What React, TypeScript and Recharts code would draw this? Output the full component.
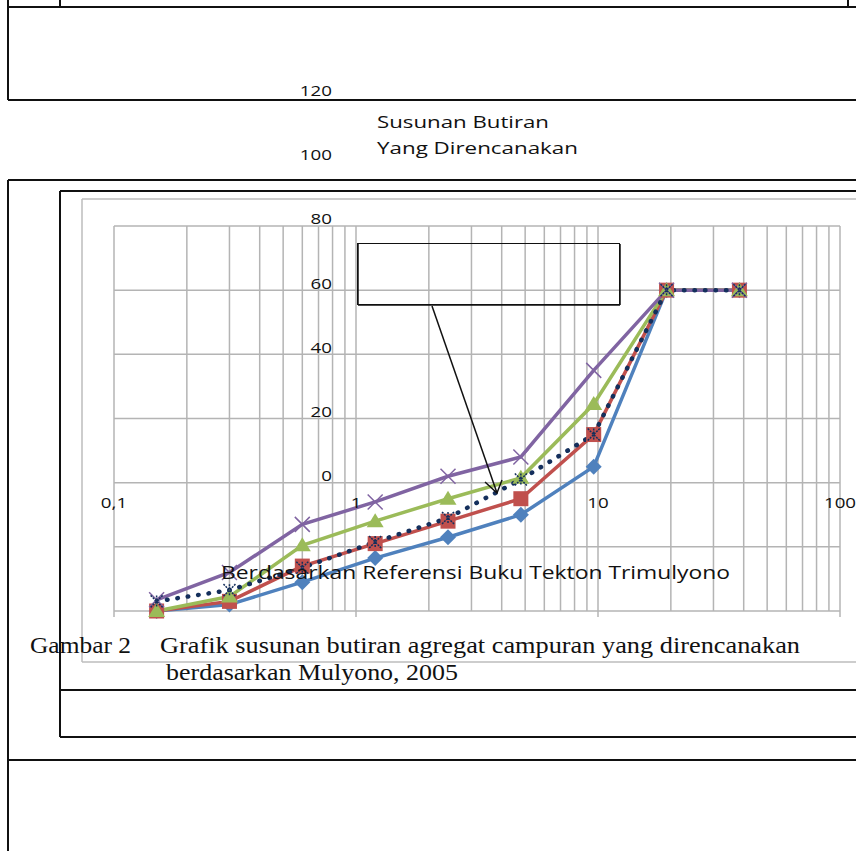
import React from 'react';
import { LineChart, Line, XAxis, YAxis, CartesianGrid } from 'recharts';

// ukuran saringan (mm) dan persen lolos tiap seri
const sieveSizes = [0.15, 0.3, 0.6, 1.2, 2.4, 4.8, 9.6, 19.2, 38.4];
const blueSeries = [0, 2, 9, 16.5, 23, 30, 45, 100, 100];
const redSeries = [0, 3, 14, 21, 28, 35, 55, 100, 100];
const greenSeries = [0, 4.5, 20.5, 28, 35, 41.5, 64.5, 100, 100];
const purpleSeries = [3.5, 12, 27, 34, 42, 48, 75, 100, 100];
const plannedSeries = [3, 6.5, 13.5, 21.5, 29, 41, 55, 100, 100];

const xGridValues = [
  0.1, 0.2, 0.3, 0.4, 0.5, 0.6, 0.7, 0.8, 0.9,
  1, 2, 3, 4, 5, 6, 7, 8, 9,
  10, 20, 30, 40, 50, 60, 70, 80, 90,
  100,
];
const xLabelValues = [0.1, 1, 10, 100];
const xLabelTexts = ['0,1', '1', '10', '100'];
const yTicks = [0, 20, 40, 60, 80, 100, 120];

const data = sieveSizes.map((size, i) => ({
  size,
  blue: blueSeries[i],
  red: redSeries[i],
  green: greenSeries[i],
  purple: purpleSeries[i],
  planned: plannedSeries[i],
}));

const BLUE = '#4F81BD';
const RED = '#C0504D';
const GREEN = '#9BBB59';
const PURPLE = '#8064A2';
const NAVY = '#142F5C';
const GRID = '#B4B4B4';
const SANS = "'Open Sans', 'DejaVu Sans', sans-serif";
const SERIF = "'Liberation Serif', 'Times New Roman', serif";

const XTick = (props: any) => {
  const { x, y, payload } = props;
  const i = xLabelValues.indexOf(payload.value);
  if (i < 0) return <g />;
  return (
    <g>
      <line x1={x} x2={x} y1={y} y2={y + 6} stroke={GRID} strokeWidth={1.5} />
      <text
        transform={`translate(${x},${y - 103}) scale(1.25,1)`}
        textAnchor="middle"
        fontFamily={SANS}
        fontSize={15}
        fill="#111"
      >
        {xLabelTexts[i]}
      </text>
    </g>
  );
};

const YTick = (props: any) => {
  const { x, y, payload } = props;
  return (
    <text
      transform={`translate(${x + 218},${y - 130}) scale(1.25,1)`}
      textAnchor="end"
      fontFamily={SANS}
      fontSize={15}
      fill="#111"
    >
      {payload.value}
    </text>
  );
};

const diamondDot = (p: any) => {
  const { cx, cy, index } = p;
  const r = 8;
  return (
    <path
      key={`b${index}`}
      d={`M${cx},${cy - r}L${cx + r},${cy}L${cx},${cy + r}L${cx - r},${cy}Z`}
      fill={BLUE}
    />
  );
};

const squareDot = (p: any) => {
  const { cx, cy, index } = p;
  return <rect key={`r${index}`} x={cx - 7.5} y={cy - 7.5} width={15} height={15} fill={RED} />;
};

const triangleDot = (p: any) => {
  const { cx, cy, index } = p;
  return (
    <path
      key={`g${index}`}
      d={`M${cx},${cy - 8}L${cx + 8.5},${cy + 6}L${cx - 8.5},${cy + 6}Z`}
      fill={GREEN}
    />
  );
};

const crossDot = (p: any) => {
  const { cx, cy, index } = p;
  const r = 7.5;
  return (
    <path
      key={`p${index}`}
      d={`M${cx - r},${cy - r}L${cx + r},${cy + r}M${cx - r},${cy + r}L${cx + r},${cy - r}`}
      stroke={PURPLE}
      strokeWidth={1.5}
      fill="none"
    />
  );
};

const starDot = (p: any) => {
  const { cx, cy, index } = p;
  const r = 6;
  return (
    <path
      key={`s${index}`}
      d={`M${cx - r},${cy - r}L${cx + r},${cy + r}M${cx - r},${cy + r}L${cx + r},${cy - r}M${cx},${cy - r}L${cx},${cy + r}`}
      stroke={NAVY}
      strokeWidth={1.5}
      strokeDasharray="2 1"
      fill="none"
    />
  );
};

const T = ({ x, y, w, size, font, children }: any) => (
  <text
    x={x}
    y={y}
    textLength={w}
    lengthAdjust="spacingAndGlyphs"
    fontFamily={font}
    fontSize={size}
    fill="#111"
  >
    {children}
  </text>
);

const Page = () => (
  <svg
    width={856}
    height={851}
    style={{ position: 'absolute', left: 0, top: 0, pointerEvents: 'none' }}
  >
    {/* kotak dokumen */}
    <g stroke="#111" strokeWidth={2} fill="none">
      <line x1={8} x2={856} y1={7} y2={7} />
      <line x1={8} x2={8} y1={0} y2={100} />
      <line x1={60} x2={60} y1={0} y2={7} />
      <line x1={848} x2={848} y1={0} y2={7} />
      <line x1={8} x2={856} y1={100} y2={100} />
      <line x1={8} x2={856} y1={180} y2={180} />
      <line x1={8} x2={8} y1={180} y2={851} />
      <line x1={60} x2={856} y1={191} y2={191} />
      <line x1={60} x2={60} y1={191} y2={737} />
      <line x1={60} x2={856} y1={690} y2={690} />
      <line x1={60} x2={856} y1={737} y2={737} />
      <line x1={8} x2={856} y1={760} y2={760} />
    </g>
    <g stroke="#BDBDBD" strokeWidth={1.5} fill="none">
      <line x1={82} x2={856} y1={199} y2={199} />
      <line x1={82} x2={82} y1={199} y2={662} />
      <line x1={82} x2={856} y1={662} y2={662} />
    </g>

    {/* kotak keterangan dan panah */}
    <rect x={357.5} y={243.5} width={262} height={61} fill="none" stroke="#111" strokeWidth={1} />
    <line x1={358} x2={358} y1={244} y2={305} stroke="#111" strokeWidth={1.5} />
    <line x1={620} x2={620} y1={244} y2={305} stroke="#111" strokeWidth={1.5} />
    <line x1={358} x2={620} y1={305} y2={305} stroke="#111" strokeWidth={1.5} />
    <line x1={432} y1={306} x2={497} y2={493} stroke="#111" strokeWidth={1.5} />
    <path d="M485,482L497,493L502,480" fill="none" stroke="#111" strokeWidth={1.5} />

    <T x={377} y={128} w={172} size={16.5} font={SANS}>Susunan Butiran</T>
    <T x={377} y={154} w={201} size={16.5} font={SANS}>Yang Direncanakan</T>
    <T x={221} y={579} w={509} size={18} font={SANS}>
      Berdasarkan Referensi Buku Tekton Trimulyono
    </T>

    <T x={30} y={653} w={101} size={23} font={SERIF}>Gambar 2</T>
    <T x={160} y={653} w={640} size={23} font={SERIF}>
      Grafik susunan butiran agregat campuran yang direncanakan
    </T>
    <T x={166} y={680} w={292} size={23} font={SERIF}>berdasarkan Mulyono, 2005</T>
  </svg>
);

export default function App() {
  return (
    <div style={{ position: 'absolute', left: 0, top: 0, width: 856, height: 851, background: '#fff', overflow: 'hidden' }}>
      <div style={{ position: 'absolute', left: 0, top: 0 }}>
        <LineChart
          width={856}
          height={851}
          data={data}
          margin={{ top: 226, right: 16, bottom: 239, left: 113 }}
        >
          <CartesianGrid stroke={GRID} strokeWidth={1.5} />
          <XAxis
            dataKey="size"
            type="number"
            scale="log"
            domain={[0.1, 100]}
            ticks={xGridValues}
            interval={0}
            height={1}
            tickSize={0}
            tickMargin={0}
            tickLine={false}
            axisLine={false}
            tick={<XTick />}
          />
          <YAxis
            type="number"
            domain={[0, 120]}
            ticks={yTicks}
            interval={0}
            width={1}
            tickSize={0}
            tickMargin={0}
            tickLine={false}
            axisLine={false}
            tick={<YTick />}
          />
          <Line dataKey="blue" stroke={BLUE} strokeWidth={3.5} dot={diamondDot} isAnimationActive={false} />
          <Line dataKey="red" stroke={RED} strokeWidth={3.5} dot={squareDot} isAnimationActive={false} />
          <Line dataKey="green" stroke={GREEN} strokeWidth={3.5} dot={triangleDot} isAnimationActive={false} />
          <Line dataKey="purple" stroke={PURPLE} strokeWidth={3.5} dot={crossDot} isAnimationActive={false} />
          <Line
            dataKey="planned"
            stroke={NAVY}
            strokeWidth={4.5}
            strokeDasharray="0.5 10"
            strokeLinecap="round"
            dot={starDot}
            isAnimationActive={false}
          />
        </LineChart>
      </div>
      <Page />
    </div>
  );
}
